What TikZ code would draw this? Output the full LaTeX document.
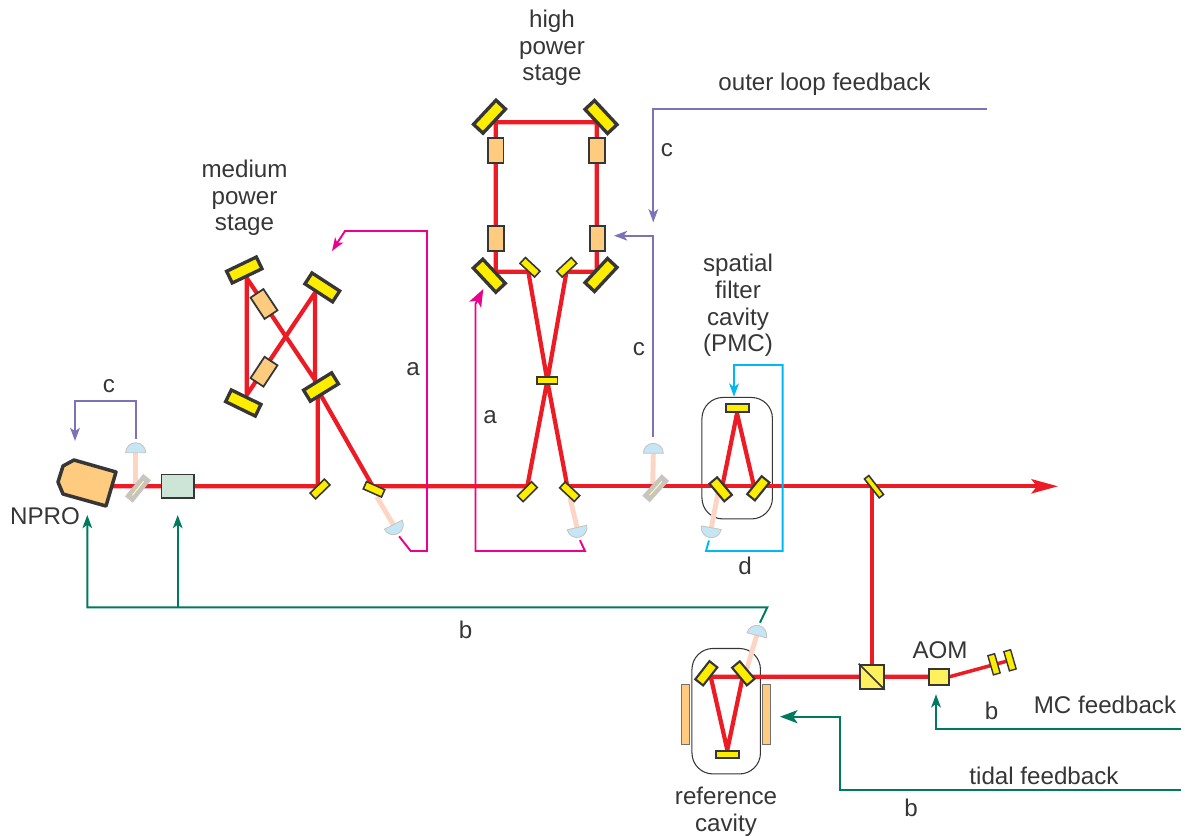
\documentclass[tikz,border=0pt]{standalone}
\usepackage{fontspec}
\setmainfont{Liberation Sans}
\usetikzlibrary{arrows.meta,backgrounds}
\definecolor{beamred}{HTML}{ED1C24}
\definecolor{beampale}{HTML}{FCD5C5}
\definecolor{mirroryellow}{HTML}{FFED00}
\definecolor{cubeyellow}{HTML}{FFF15C}
\definecolor{caseorange}{HTML}{FFCC7F}
\definecolor{edgegrey}{HTML}{363636}
\definecolor{splitgrey}{HTML}{C8C4BF}
\definecolor{isolgreen}{HTML}{CCE5D6}
\definecolor{pdblue}{HTML}{C5E6F5}
\definecolor{fbgreen}{HTML}{007A5E}
\definecolor{fbpink}{HTML}{EC008C}
\definecolor{fbpurple}{HTML}{7B72B8}
\definecolor{fbcyan}{HTML}{00B9F2}
\tikzset{
  lab/.style={text=edgegrey,align=center,font=\fontsize{13.75}{15.1}\selectfont},
  mirrorbig/.style={draw=edgegrey,fill=mirroryellow,line width=1.9pt,minimum width=.66cm,minimum height=.26cm},
  mirrormid/.style={draw=edgegrey,fill=mirroryellow,line width=1.2pt,minimum width=.46cm,minimum height=.2cm},
  mirrorsmall/.style={draw=edgegrey,fill=mirroryellow,line width=.9pt,minimum width=.40cm,minimum height=.16cm},
  gainblock/.style={draw=edgegrey,fill=caseorange,line width=1pt,minimum width=.51cm,minimum height=.31cm},
  splitter/.style={draw=splitgrey,fill=splitgrey,line width=.5pt,minimum width=.56cm,minimum height=.18cm},
  splitcore/.style={draw=mirroryellow!35,line width=.6pt,shorten >=3pt,shorten <=3pt},
  cavbox/.style={draw=edgegrey,rounded corners=.42cm,line width=.6pt},
  beam/.style={draw=beamred,line width=2.4pt,line join=round},
  pale/.style={draw=beampale,line width=2.8pt},
  fbk/.style={line width=1.1pt,line join=miter},
  tipsmall/.style={-{Stealth[length=7.5pt,width=5.5pt,inset=2pt]}},
  tiplarge/.style={-{Stealth[length=10pt,width=7.5pt,inset=2.5pt]}},
  detector/.pic={
    \draw[draw=splitgrey,fill=pdblue,line width=.5pt] (-10,0) arc (180:0:10) -- cycle;
    \coordinate (-top) at (0,13);
    \coordinate (-face) at (0,0);
  }
}
\begin{document}
\begin{tikzpicture}[x=0.02cm,y=0.02cm]
\tikzstyle{every node}+=[inner sep=0pt]
\useasboundingbox (0,0) rectangle (1185,-835);
\draw [draw=edgegrey,fill=caseorange,line width=2pt,line join=round] (58,-482) -- (63,-466) -- (74,-460) -- (116,-472) -- (106,-506) -- (63,-494) -- cycle;
\coordinate (npro) at (110,-486.3);
\node [splitter,rotate=51] (spa) at (138,-488.3) {};
\draw [splitcore] (spa.west) -- (spa.east);
\node [draw=edgegrey,fill=isolgreen,line width=.7pt,minimum width=.65cm,minimum height=.47cm] (isol) at (177.8,-486.3) {};
\pic (pdb) at (135.7,-452.7) {detector};
\node [mirrorbig,rotate=25.6] (mpa) at (244.3,-270) {};
\node [mirrorbig,rotate=-33] (mpb) at (322.3,-287.4) {};
\node [mirrorbig,rotate=-26] (mpc) at (243.3,-403) {};
\node [mirrorbig,rotate=31.7] (mpd) at (321,-387) {};
\node [gainblock,rotate=-56.5] (gma) at (264,-304) {};
\node [gainblock,rotate=56.7] (gmb) at (264,-371.7) {};
\node [mirrorsmall,rotate=44] (mpe) at (320,-489) {};
\node [mirrorsmall,rotate=-24] (mpf) at (374,-489.3) {};
\pic [rotate=206.6] (pdm) at (393.3,-524.7) {detector};
\node [mirrorbig,rotate=47] (hpa) at (489.5,-116.7) {};
\node [mirrorbig,rotate=-47] (hpb) at (601,-117) {};
\node [mirrorbig,rotate=-47] (hpc) at (489.3,-275.7) {};
\node [mirrorbig,rotate=47] (hpd) at (601,-275) {};
\node [gainblock,rotate=90] (gha) at (495.8,-150.5) {};
\node [gainblock,rotate=90] (ghb) at (496,-238.5) {};
\node [gainblock,rotate=90] (ghc) at (597,-150.5) {};
\node [gainblock,rotate=90] (ghd) at (597.5,-238.5) {};
\node [mirrorsmall,rotate=-43] (hpe) at (530,-267.3) {};
\node [mirrorsmall,rotate=43] (hpf) at (566.7,-267.3) {};
\node [mirrorsmall,minimum width=.41cm,minimum height=.14cm] (hpg) at (547.3,-380.7) {};
\node [mirrorsmall,rotate=45] (hph) at (527.3,-491.7) {};
\node [mirrorsmall,rotate=-43] (hpi) at (569.7,-491.7) {};
\pic [rotate=-167] (pdh) at (577,-527.5) {detector};
\node [splitter,rotate=48] (spb) at (655.7,-488.3) {};
\draw [splitcore] (spb.west) -- (spb.east);
\pic (pdc) at (653.3,-453.3) {detector};
\node [mirrormid,minimum height=.15cm] (pma) at (737.2,-407.8) {};
\node [mirrormid,rotate=-50] (pmb) at (720.7,-489.3) {};
\node [mirrormid,rotate=51] (pmc) at (758.3,-488.3) {};
\pic [rotate=169.6] (pdp) at (711.3,-527.7) {detector};
\node [mirrorsmall,rotate=-52,minimum width=.48cm,minimum height=.11cm] (tap) at (874,-486.7) {};
\node [draw=edgegrey,fill=cubeyellow,line width=1.2pt,minimum width=.48cm,minimum height=.48cm] (cube) at (871.8,-676.7) {};
\draw [draw=edgegrey,line width=.9pt] (cube.north west) -- (cube.south east);
\node [draw=edgegrey,fill=cubeyellow,line width=1.1pt,minimum width=.4cm,minimum height=.32cm] (aom) at (938.7,-676.7) {};
\node [mirrorsmall,rotate=-73.7,line width=.8pt,minimum height=.14cm] (ama) at (994,-664.3) {};
\node [mirrorsmall,rotate=-73.7,line width=.8pt,minimum height=.14cm] (amb) at (1010,-660.3) {};
\node [mirrormid,rotate=52] (rca) at (706.3,-673.3) {};
\node [mirrormid,rotate=-50] (rcb) at (743.3,-673.3) {};
\node [mirrormid,minimum height=.15cm] (rcc) at (727.8,-754.5) {};
\node [draw=edgegrey!70,fill=caseorange,line width=.6pt,minimum width=.16cm,minimum height=1.2cm] (bara) at (685.8,-714.8) {};
\node [draw=edgegrey!70,fill=caseorange,line width=.6pt,minimum width=.16cm,minimum height=1.2cm] (barb) at (766.7,-714.8) {};
\pic [rotate=-14.5] (pdr) at (756.7,-635.3) {detector};
\coordinate (ma) at (246.7,-278);
\coordinate (mb) at (246.7,-395);
\coordinate (mc) at (315,-292.7);
\coordinate (md) at (315,-380);
\coordinate (me) at (320.7,-395);
\coordinate (mf) at (317.7,-486.3);
\coordinate (mg) at (372.7,-486.3);
\coordinate (ha) at (495.7,-122.3);
\coordinate (hb) at (596.7,-122.3);
\coordinate (hc) at (596.7,-271.7);
\coordinate (hd) at (495.7,-271.7);
\coordinate (he) at (528.3,-271.7);
\coordinate (hf) at (566.5,-271.7);
\coordinate (hg) at (527.3,-486.3);
\coordinate (hh) at (567.3,-486.3);
\coordinate (pa) at (737,-413.3);
\coordinate (pb) at (722.3,-486.3);
\coordinate (pc) at (754,-486.3);
\coordinate (out) at (1058,-486.3);
\coordinate (ra) at (710.7,-676.7);
\coordinate (rb) at (742.7,-676.7);
\coordinate (rc) at (727.3,-750);
\coordinate (ta) at (872,-486.3);
\begin{pgfonlayer}{background}
\node [cavbox,minimum width=1.41cm,minimum height=2.43cm] (pmcbox) at (737.2,-458.2) {};
\node [cavbox,minimum width=1.37cm,minimum height=2.51cm] (refbox) at (726.2,-711.2) {};
\draw [pale] (135.7,-486.3) -- (pdb-face);
\draw [pale] (376.7,-496.7) -- (pdm-face);
\draw [pale] (570,-498) -- (pdh-face);
\draw [pale] (652.7,-486.3) -- (pdc-face);
\draw [pale] (718,-493) -- (pdp-face);
\draw [pale] (746,-671.7) -- (pdr-face);
\draw [beam] (npro) -- (mf) -- (317.7,-392) -- (315,-386) -- (mc) -- (mb) -- (ma) -- (md) -- (me) -- (mg);
\draw [beam] (mg) -- (hg) -- (hpg.center) -- (hf) -- (hc) -- (hb) -- (ha) -- (hd) -- (he) -- (hpg.center) -- (hh);
\draw [beam,-{Stealth[length=15pt,width=8pt,inset=3pt]}] (hh) -- (out);
\draw [beam] (pb) -- (pa) -- (pc);
\draw [beam] (ta) -- (ta |- cube.north);
\draw [beam] (aom.west) -- (ra) -- (rc) -- (rb);
\draw [beam,line width=2pt] (aom.east) -- (amb.center);
\end{pgfonlayer}
\coordinate (npin) at (87.3,-515);
\coordinate (isin) at (177.7,-515);
\coordinate (bj) at (177.7,-607.3);
\draw [fbk,fbgreen,tipsmall] (pdr-top) -- (767.3,-607.3) -| (npin);
\draw [fbk,fbgreen,tipsmall] (bj) -- (isin);
\coordinate (aomin) at (936,-694.3);
\draw [fbk,fbgreen,tipsmall] (1181,-729.3) -| (aomin);
\coordinate (barin) at (780,-716.7);
\draw [fbk,fbgreen,tiplarge] (1181,-790) -| (840,-716.7) -- (barin);
\coordinate (mpin) at (332,-251);
\draw [fbk,fbpink,tipsmall] (pdm-top) -- (410.7,-551) -- (427,-551) -- (427,-231) -- (345,-231) -- (mpin);
\coordinate (hpin) at (483.3,-289);
\draw [fbk,fbpink,tiplarge] (pdh-top) -- (585,-551) -- (475.5,-551) -- (475.5,-304) -- (hpin);
\coordinate (ca) at (75,-441);
\draw [fbk,fbpurple,tipsmall] (135.7,-439) -- (135.7,-401) -- (75,-401) -- (ca);
\coordinate (cb) at (653.3,-222.3);
\draw [fbk,fbpurple,tipsmall] (987,-109) -- (653.3,-109) -- (cb);
\coordinate (cc) at (614,-235.7);
\draw [fbk,fbpurple,tipsmall] (653.3,-437) -- (653.3,-235.7) -- (cc);
\coordinate (pin) at (734,-396.7);
\draw [fbk,fbcyan,tipsmall] (pdp-top) -- (706,-551) -- (782.7,-551) -- (782.7,-365) -- (734,-365) -- (pin);
\node [lab] (lhigh) at (552,-48) {high\\power\\stage};
\node [lab] (lmed) at (244.5,-198) {medium\\power\\stage};
\node [lab] (lpmc) at (738,-305.5) {spatial\\filter\\cavity\\(PMC)};
\node [lab] (lref) at (726,-812) {reference\\cavity};
\node [lab] (lnpro) at (45,-516) {NPRO};
\node [lab] (laom) at (940,-650) {AOM};
\node [lab] (louter) at (824.5,-84) {outer loop feedback};
\node [lab] (lmc) at (1105,-705) {MC feedback};
\node [lab] (ltidal) at (1044,-776) {tidal feedback};
\node [lab] (lca) at (109,-386) {c};
\node [lab] (lcb) at (667,-150) {c};
\node [lab] (lcc) at (639,-349) {c};
\node [lab] (laa) at (413,-369) {a};
\node [lab] (lab) at (490,-417) {a};
\node [lab] (lba) at (465.5,-630) {b};
\node [lab] (lbb) at (991.5,-711) {b};
\node [lab] (lbc) at (911,-808) {b};
\node [lab] (ld) at (745,-566) {d};
\end{tikzpicture}
\end{document}
